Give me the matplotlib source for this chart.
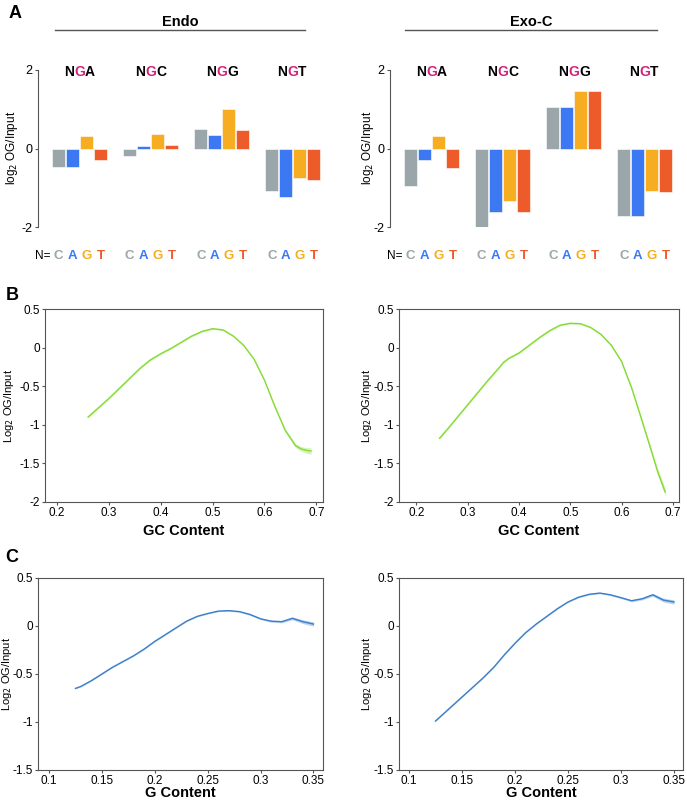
import matplotlib

matplotlib.use("Agg")
import matplotlib.pyplot as plt
from matplotlib.lines import Line2D
import numpy as np

plt.rcParams["font.family"] = ["Liberation Sans", "DejaVu Sans"]

# ─── Data ───────────────────────────────────────────────────────────────────
motifs = ["NGA", "NGC", "NGG", "NGT"]
bases = ["C", "A", "G", "T"]

endo_vals = [
    [-0.47, -0.47, 0.31, -0.30],   # NGA
    [-0.20, 0.06, 0.38, 0.09],     # NGC
    [0.49, 0.34, 1.00, 0.47],      # NGG
    [-1.09, -1.23, -0.75, -0.81],  # NGT
]
exoc_vals = [
    [-0.95, -0.30, 0.31, -0.49],
    [-2.05, -1.61, -1.35, -1.63],
    [1.06, 1.07, 1.47, 1.46],
    [-1.73, -1.72, -1.09, -1.12],
]

gc_x_endo = [0.26, 0.28, 0.30, 0.32, 0.34, 0.36, 0.38, 0.40, 0.42, 0.44, 0.46,
             0.48, 0.50, 0.52, 0.54, 0.56, 0.58, 0.60, 0.62, 0.64, 0.66, 0.67,
             0.68, 0.69]
gc_y_endo = [-0.90, -0.78, -0.66, -0.53, -0.40, -0.27, -0.16, -0.08, -0.01,
             0.07, 0.15, 0.21, 0.245, 0.23, 0.15, 0.03, -0.15, -0.42, -0.76,
             -1.07, -1.27, -1.31, -1.33, -1.34]
gc_ci_endo = [0.01, 0.01, 0.01, 0.01, 0.01, 0.01, 0.01, 0.01, 0.01, 0.01, 0.01,
              0.01, 0.01, 0.01, 0.01, 0.01, 0.01, 0.012, 0.015, 0.02, 0.025,
              0.03, 0.035, 0.04]

gc_x_exoc = [0.245, 0.26, 0.28, 0.30, 0.32, 0.34, 0.36, 0.37, 0.38, 0.40, 0.42,
             0.44, 0.46, 0.48, 0.50, 0.52, 0.54, 0.56, 0.58, 0.60, 0.62, 0.64,
             0.66, 0.67, 0.685]
gc_y_exoc = [-1.175, -1.06, -0.90, -0.74, -0.58, -0.42, -0.27, -0.19, -0.14,
             -0.07, 0.03, 0.13, 0.22, 0.29, 0.315, 0.31, 0.26, 0.17, 0.03,
             -0.18, -0.53, -0.95, -1.38, -1.60, -1.87]
gc_ci_exoc = [0.01, 0.01, 0.01, 0.01, 0.01, 0.01, 0.01, 0.01, 0.01, 0.01, 0.01,
              0.01, 0.01, 0.01, 0.01, 0.01, 0.01, 0.01, 0.012, 0.015, 0.02,
              0.025, 0.03, 0.04, 0.05]

g_x = [0.125, 0.13, 0.14, 0.15, 0.16, 0.17, 0.18, 0.19, 0.20, 0.21, 0.22, 0.23,
       0.24, 0.25, 0.26, 0.27, 0.28, 0.29, 0.30, 0.31, 0.32, 0.33, 0.34, 0.35]
g_y_endo = [-0.65, -0.63, -0.57, -0.50, -0.43, -0.37, -0.31, -0.24, -0.16,
            -0.09, -0.02, 0.05, 0.10, 0.13, 0.155, 0.16, 0.15, 0.12, 0.075,
            0.05, 0.045, 0.08, 0.045, 0.02]
g_y_exoc = [-0.99, -0.94, -0.84, -0.74, -0.64, -0.54, -0.43, -0.30, -0.18,
            -0.07, 0.02, 0.10, 0.18, 0.25, 0.30, 0.33, 0.343, 0.325, 0.295,
            0.263, 0.284, 0.325, 0.27, 0.25]
g_ci = [0.005, 0.005, 0.005, 0.005, 0.005, 0.005, 0.005, 0.005, 0.005, 0.005,
        0.005, 0.005, 0.005, 0.005, 0.006, 0.006, 0.007, 0.008, 0.009, 0.01,
        0.012, 0.015, 0.02, 0.022]

# ─── Style ──────────────────────────────────────────────────────────────────
BASE_COLORS = {"C": "#9ba6ab", "A": "#3c78f2", "G": "#f6ad22", "T": "#ee5b2b"}
MAGENTA = "#d0237a"
GREEN = "#84dc33"
BLUE = "#3a7ec8"
SPINE = "#555555"

W, H = 687, 800
GROUP_STEP = 5.08
BAR_W = 0.93


def fx(px):
    return px / W


def fy(px):
    return 1 - px / H


def bar_panel(fig, left_px, ylabel_px, vals):
    ax = fig.add_axes([fx(left_px), fy(227), fx(292), 157 / H])
    for g, motif in enumerate(motifs):
        xs = [g * GROUP_STEP + i for i in range(4)]
        ax.bar(xs, vals[g], width=BAR_W,
               color=[BASE_COLORS[b] for b in bases],
               edgecolor="white", linewidth=0.4)
        cx = g * GROUP_STEP + 1.5
        mid = ax.text(cx, 1.95, "G", color=MAGENTA, fontsize=10,
                      fontweight="bold", ha="center", va="center")
        ax.annotate(motif[0], xy=(0, 0), xycoords=mid, ha="right", va="bottom",
                    fontsize=10, fontweight="bold", color="black")
        ax.annotate(motif[2], xy=(1, 0), xycoords=mid, ha="left", va="bottom",
                    fontsize=10, fontweight="bold", color="black")
        for i, b in enumerate(bases):
            ax.text(xs[i], -2.74, b, color=BASE_COLORS[b], fontsize=9.5,
                    fontweight="bold", ha="center", va="center", clip_on=False)
    ax.text(-0.55, -2.74, "N=", fontsize=8.5, ha="right", va="center",
            clip_on=False)
    ax.set_xlim(-1.465, 19.39)
    ax.set_ylim(-2, 2)
    ax.set_yticks([-2, 0, 2])
    ax.set_yticklabels(["-2", "0", "2"])
    ax.set_xticks([])
    for s in ["top", "right", "bottom"]:
        ax.spines[s].set_visible(False)
    ax.spines["left"].set_color(SPINE)
    ax.spines["left"].set_linewidth(0.8)
    ax.tick_params(axis="y", length=2, width=0.8, color=SPINE, labelsize=9,
                   pad=2)
    ax.set_ylabel("log$_2$ OG/Input", fontsize=8.5)
    ax.yaxis.set_label_coords(fx(ylabel_px), fy(148), transform=fig.transFigure)
    ax.yaxis.label.set_va("center")
    ax.patch.set_alpha(0)
    return ax


def curve_panel(fig, rect_px, ylabel_px, xlabel_py, x, y, ci, color, xlim,
                ylim, yticks, ytl, xticks, xtl, xlabel):
    l, r, t, b = rect_px
    ax = fig.add_axes([fx(l), fy(b), fx(r - l), (b - t) / H])
    x = np.array(x)
    y = np.array(y)
    ci = np.array(ci)
    ax.fill_between(x, y - ci, y + ci, color=color, alpha=0.35, linewidth=0)
    ax.plot(x, y, color=color, linewidth=1.0)
    ax.set_xlim(*xlim)
    ax.set_ylim(*ylim)
    ax.set_yticks(yticks)
    ax.set_yticklabels(ytl)
    ax.set_xticks(xticks)
    ax.set_xticklabels(xtl)
    for s in ax.spines.values():
        s.set_color(SPINE)
        s.set_linewidth(0.8)
    ax.tick_params(length=2, width=0.8, color=SPINE, labelsize=8.5, pad=1.5)
    ax.set_xlabel(xlabel, fontsize=10.5, fontweight="bold")
    ax.xaxis.set_label_coords(fx((l + r) / 2), fy(xlabel_py),
                              transform=fig.transFigure)
    ax.xaxis.label.set_va("center")
    ax.set_ylabel("Log$_2$ OG/Input", fontsize=8)
    ax.yaxis.set_label_coords(fx(ylabel_px), fy((t + b) / 2),
                              transform=fig.transFigure)
    ax.yaxis.label.set_va("center")
    return ax


fig = plt.figure(figsize=(W / 100, H / 100), dpi=100)

# Panel A
bar_panel(fig, 38, 12, endo_vals)
bar_panel(fig, 390, 368, exoc_vals)

fig.text(fx(180), fy(22), "Endo", fontsize=10.5, fontweight="bold",
         ha="center", va="center")
fig.text(fx(531), fy(22), "Exo-C", fontsize=10.5, fontweight="bold",
         ha="center", va="center")
fig.add_artist(Line2D([fx(55), fx(305)], [fy(30), fy(30)], color="#555555",
                      linewidth=1.0))
fig.add_artist(Line2D([fx(405), fx(657)], [fy(30), fy(30)], color="#555555",
                      linewidth=1.0))

# Panel B
gc_yt = [-2, -1.5, -1, -0.5, 0, 0.5]
gc_ytl = ["-2", "-1.5", "-1", "-0.5", "0", "0.5"]
gc_xt = [0.2, 0.3, 0.4, 0.5, 0.6, 0.7]
gc_xtl = ["0.2", "0.3", "0.4", "0.5", "0.6", "0.7"]
curve_panel(fig, (45, 323, 309, 502), 9, 531, gc_x_endo, gc_y_endo,
            gc_ci_endo, GREEN, (0.177, 0.713), (-2, 0.5), gc_yt, gc_ytl,
            gc_xt, gc_xtl, "GC Content")
curve_panel(fig, (399, 679, 309, 502), 367, 531, gc_x_exoc, gc_y_exoc,
            gc_ci_exoc, GREEN, (0.166, 0.712), (-2, 0.5), gc_yt, gc_ytl,
            gc_xt, gc_xtl, "GC Content")

# Panel C
g_yt = [-1.5, -1, -0.5, 0, 0.5]
g_ytl = ["-1.5", "-1", "-0.5", "0", "0.5"]
g_xt = [0.1, 0.15, 0.2, 0.25, 0.3, 0.35]
g_xtl = ["0.1", "0.15", "0.2", "0.25", "0.3", "0.35"]
curve_panel(fig, (38, 323, 578, 770), 7, 793, g_x, g_y_endo, g_ci, BLUE,
            (0.0896, 0.359), (-1.5, 0.5), g_yt, g_ytl, g_xt, g_xtl,
            "G Content")
curve_panel(fig, (399, 683, 578, 770), 367, 793, g_x, g_y_exoc, g_ci, BLUE,
            (0.0906, 0.3585), (-1.5, 0.5), g_yt, g_ytl, g_xt, g_xtl,
            "G Content")

# Panel letters
for letter, (px, py) in {"A": (15, 13), "B": (12, 296), "C": (12, 557)}.items():
    fig.text(fx(px), fy(py), letter, fontsize=13, fontweight="bold",
             ha="center", va="center")

fig.savefig("out.png", dpi=100)
